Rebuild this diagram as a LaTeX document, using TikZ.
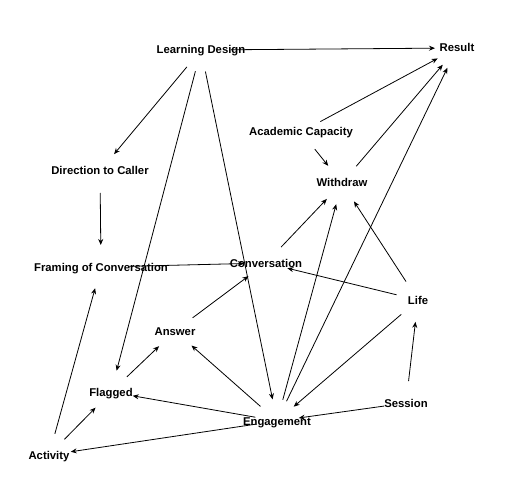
\documentclass[tikz,border=0pt]{standalone}
\usepackage{fontspec}
\setmainfont{Liberation Sans}
\usetikzlibrary{arrows.meta}
\definecolor{ink}{HTML}{000000}
\definecolor{paper}{HTML}{FFFFFF}

\begin{document}
\begin{tikzpicture}[
    x=1bp, y=-1bp,
    every node/.style={font=\bfseries\fontsize{11.3bp}{13bp}\selectfont},
    var/.style={inner sep=0pt, text height=8bp, text depth=0bp, text=ink},
    arr/.style={-{Stealth[length=6bp, width=5bp]}, line width=0.8bp, color=ink,
                shorten <=22bp, shorten >=22bp},
]
\fill[paper] (0,0) rectangle (504,504);
\useasboundingbox (0,0) rectangle (504,504);

% ---------------- variables
\node[var] (ld)    at (201, 50)  {Learning Design};
\node[var] (res)   at (457, 48)  {Result};
\node[var] (acad)  at (301, 132) {Academic Capacity};
\node[var] (wd)    at (342, 183) {Withdraw};
\node[var] (dir)   at (100, 171) {Direction to Caller};
\node[var] (frame) at (101, 267) {Framing of Conversation};
\node[var] (conv)  at (266, 263) {Conversation};
\node[var] (life)  at (418, 300) {Life};
\node[var] (ans)   at (175, 331) {Answer};
\node[var] (flag)  at (111, 392) {Flagged};
\node[var] (sess)  at (406, 403) {Session};
\node[var] (eng)   at (277, 421) {Engagement};
\node[var] (act)   at (49, 455)  {Activity};

% ---------------- edges
\draw[arr, shorten <=30bp] (ld.center) -- (res.center);
\draw[arr, shorten <=28bp] (frame.center) -- (conv.center);
\foreach \a/\b in {ld/dir, ld/flag, ld/eng, acad/res, acad/wd, wd/res,
                   eng/res, dir/frame, conv/wd, eng/wd, life/wd,
                   life/conv, ans/conv, life/eng, sess/life, sess/eng,
                   eng/ans, eng/flag, eng/act, act/frame, act/flag,
                   flag/ans}{
    \draw[arr] (\a.center) -- (\b.center);
}
\end{tikzpicture}
\end{document}
